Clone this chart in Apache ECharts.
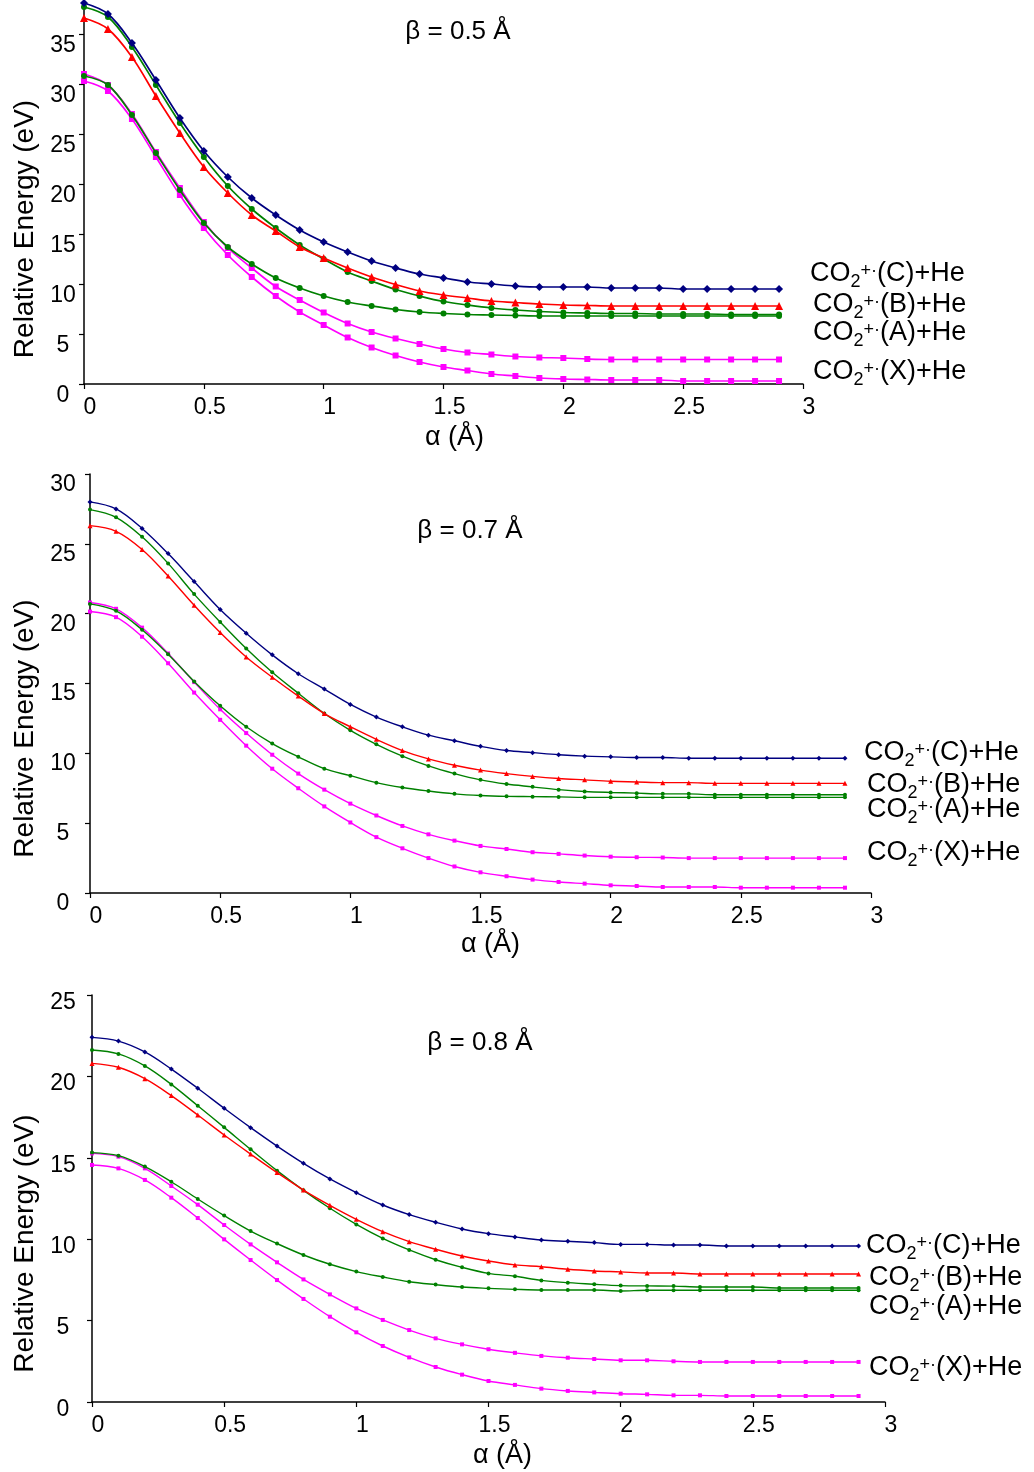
<!DOCTYPE html>
<html>
<head>
<meta charset="utf-8">
<title>CO2+ + He relative energy curves</title>
<script src="https://cdn.jsdelivr.net/npm/echarts@6/dist/echarts.min.js"></script>
<style>
  html, body { margin: 0; padding: 0; background: #fff; }
  #chart { width: 1034px; height: 1472px; }
</style>
</head>
<body>
<div id="chart"></div>
<script>
// α grid (Å)
const alpha = [0, 0.1, 0.2, 0.3, 0.4, 0.5, 0.6, 0.7, 0.8, 0.9, 1.0, 1.1, 1.2, 1.3, 1.4,
               1.5, 1.6, 1.7, 1.8, 1.9, 2.0, 2.1, 2.2, 2.3, 2.4, 2.5, 2.6, 2.7, 2.8, 2.9];

// β = 0.5 Å
const c05 = [38.1, 37.0, 34.1, 30.4, 26.6, 23.3, 20.7, 18.6, 16.9, 15.4, 14.2, 13.2, 12.3, 11.6, 11.0,
             10.6, 10.2, 10.0, 9.8, 9.7, 9.7, 9.7, 9.6, 9.6, 9.6, 9.5, 9.5, 9.5, 9.5, 9.5];
const b05 = [36.6, 35.5, 32.7, 28.8, 25.1, 21.7, 19.1, 16.9, 15.3, 13.7, 12.6, 11.6, 10.7, 9.95, 9.3,
             8.9, 8.6, 8.3, 8.15, 8.0, 7.9, 7.85, 7.8, 7.8, 7.8, 7.8, 7.8, 7.8, 7.8, 7.8];
const aUp05 = [37.7, 36.7, 33.7, 29.9, 26.1, 22.7, 19.8, 17.5, 15.6, 13.9, 12.5, 11.2, 10.3, 9.45, 8.8,
               8.25, 7.9, 7.6, 7.4, 7.25, 7.15, 7.1, 7.05, 7.05, 7.0, 7.0, 7.0, 6.95, 6.95, 6.95];
const aLo05 = [30.8, 29.9, 26.9, 23.1, 19.4, 16.1, 13.7, 12.0, 10.6, 9.6, 8.8, 8.2, 7.8, 7.45, 7.2,
               7.05, 6.95, 6.9, 6.85, 6.8, 6.8, 6.8, 6.8, 6.8, 6.8, 6.8, 6.8, 6.8, 6.8, 6.8];
const xUp05 = [31.0, 29.9, 27.0, 23.2, 19.6, 16.2, 13.6, 11.6, 9.75, 8.4, 7.15, 6.05, 5.2, 4.55, 4.0,
               3.5, 3.15, 2.95, 2.75, 2.65, 2.6, 2.5, 2.45, 2.45, 2.45, 2.45, 2.45, 2.45, 2.45, 2.45];
const xLo05 = [30.3, 29.3, 26.5, 22.7, 18.9, 15.6, 12.9, 10.7, 8.8, 7.2, 5.9, 4.65, 3.65, 2.85, 2.2,
               1.7, 1.35, 1.0, 0.8, 0.6, 0.5, 0.45, 0.4, 0.4, 0.4, 0.3, 0.3, 0.3, 0.3, 0.3];

// β = 0.7 Å
const c07 = [28.0, 27.5, 26.1, 24.3, 22.3, 20.3, 18.6, 17.05, 15.7, 14.6, 13.5, 12.6, 11.9, 11.3, 10.9,
             10.5, 10.2, 10.05, 9.9, 9.8, 9.75, 9.7, 9.7, 9.65, 9.65, 9.65, 9.65, 9.65, 9.65, 9.65];
const b07 = [26.3, 25.9, 24.6, 22.7, 20.6, 18.65, 16.9, 15.45, 14.1, 12.85, 11.9, 11.0, 10.2, 9.6, 9.15,
             8.8, 8.55, 8.35, 8.2, 8.1, 8.0, 7.95, 7.9, 7.9, 7.85, 7.85, 7.85, 7.85, 7.85, 7.85];
const aUp07 = [27.45, 26.9, 25.5, 23.6, 21.4, 19.4, 17.5, 15.8, 14.3, 12.85, 11.65, 10.65, 9.8, 9.1, 8.55,
               8.1, 7.8, 7.6, 7.4, 7.27, 7.2, 7.15, 7.1, 7.1, 7.03, 7.03, 7.03, 7.03, 7.03, 7.03];
const aLo07 = [20.7, 20.2, 18.85, 17.1, 15.15, 13.4, 11.9, 10.7, 9.75, 8.9, 8.4, 7.9, 7.55, 7.3, 7.1,
               6.98, 6.92, 6.9, 6.88, 6.85, 6.85, 6.85, 6.85, 6.85, 6.85, 6.85, 6.85, 6.85, 6.85, 6.85];
const xUp07 = [20.8, 20.35, 19.0, 17.15, 15.1, 13.15, 11.45, 9.9, 8.55, 7.4, 6.4, 5.55, 4.8, 4.2, 3.75,
               3.37, 3.15, 2.92, 2.8, 2.68, 2.6, 2.56, 2.54, 2.5, 2.5, 2.5, 2.5, 2.5, 2.5, 2.5];
const xLo07 = [20.15, 19.75, 18.35, 16.45, 14.35, 12.4, 10.55, 8.9, 7.5, 6.2, 5.05, 4.0, 3.2, 2.5, 1.9,
               1.48, 1.2, 0.96, 0.79, 0.67, 0.55, 0.5, 0.43, 0.43, 0.43, 0.38, 0.38, 0.38, 0.38, 0.38];

// β = 0.8 Å
const c08 = [22.4, 22.17, 21.5, 20.45, 19.27, 18.04, 16.85, 15.72, 14.66, 13.7, 12.86, 12.1, 11.51, 11.04, 10.63,
             10.34, 10.14, 9.95, 9.87, 9.79, 9.68, 9.68, 9.64, 9.64, 9.58, 9.58, 9.58, 9.58, 9.58, 9.58];
const b08 = [20.8, 20.56, 19.86, 18.82, 17.63, 16.4, 15.23, 14.09, 13.02, 12.08, 11.22, 10.46, 9.85, 9.38, 8.97,
             8.66, 8.42, 8.31, 8.15, 8.05, 7.99, 7.92, 7.92, 7.86, 7.86, 7.86, 7.86, 7.86, 7.86, 7.86];
const aUp08 = [21.62, 21.38, 20.64, 19.51, 18.2, 16.87, 15.52, 14.21, 13.0, 11.9, 10.91, 10.05, 9.34, 8.74, 8.27,
               7.9, 7.72, 7.47, 7.33, 7.23, 7.15, 7.13, 7.12, 7.06, 7.06, 7.06, 7.0, 7.0, 7.0, 7.0];
const aLo08 = [15.32, 15.13, 14.46, 13.53, 12.47, 11.45, 10.5, 9.73, 9.03, 8.46, 8.01, 7.68, 7.39, 7.21, 7.06,
               6.98, 6.92, 6.88, 6.88, 6.88, 6.82, 6.86, 6.86, 6.86, 6.86, 6.86, 6.86, 6.86, 6.86, 6.86];
const xUp08 = [15.27, 15.07, 14.35, 13.27, 12.12, 10.87, 9.68, 8.58, 7.53, 6.61, 5.75, 5.04, 4.42, 3.91, 3.54,
               3.24, 3.02, 2.83, 2.72, 2.64, 2.56, 2.56, 2.5, 2.46, 2.46, 2.46, 2.46, 2.46, 2.46, 2.46];
const xLo08 = [14.56, 14.35, 13.64, 12.55, 11.3, 9.99, 8.72, 7.49, 6.33, 5.24, 4.28, 3.44, 2.74, 2.15, 1.68,
               1.29, 1.05, 0.82, 0.68, 0.59, 0.51, 0.47, 0.41, 0.41, 0.37, 0.37, 0.37, 0.37, 0.37, 0.37];

const panelTitles = ['β = 0.5 Å', 'β = 0.7 Å', 'β = 0.8 Å'];
// top panel's axis runs off the top edge, so its visible range stops at 38.4
const yMaxes = [38.4, 30, 25];
const stateNames = ['C', 'B', 'A', 'X'];
const xTitle = 'α (Å)';
const yTitle = 'Relative Energy (eV)';

const FONT = "'Liberation Sans', Arial, Helvetica, sans-serif";
const NAVY = '#000080', RED = '#ff0000', GREEN = '#008000', MAGENTA = '#ff00ff';

// per-panel layout; yLabelLine = line box of the y tick labels (top-anchored, so half of it drops the text)
const panels = [
  { grid: { left: 84, top: 0, width: 719, height: 384 }, curves: [c05, b05, aUp05, aLo05, xUp05, xLo05],
    big: true, title: [458, 32], xShift: 22, xGap: 40, yGap: 45, yNameShift: 74,
    yLabelMargin: 21, yLabelLine: 23,
    labels: [[810, 274], [813, 305], [813, 333], [813, 372]] },
  { grid: { left: 90, top: 474, width: 781, height: 419 }, curves: [c07, b07, aUp07, aLo07, xUp07, xLo07],
    big: false, title: [470, 531], xShift: 20, xGap: 38, yGap: 51, yNameShift: 90,
    yLabelMargin: 27, yLabelLine: 21,
    labels: [[864, 753], [867, 785], [867, 810], [867, 853]] },
  { grid: { left: 92, top: 995, width: 793, height: 407 }, curves: [c08, b08, aUp08, aLo08, xUp08, xLo08],
    big: false, title: [480, 1043], xShift: 28, xGap: 40, yGap: 53, yNameShift: 90,
    yLabelMargin: 29, yLabelLine: 15,
    labels: [[866, 1246], [869, 1278], [869, 1307], [869, 1368]] }
];

const curveStyles = [
  { color: NAVY, symbol: 'diamond' },
  { color: RED, symbol: 'triangle' },
  { color: GREEN, symbol: 'circle' },
  { color: GREEN, symbol: 'circle' },
  { color: MAGENTA, symbol: 'rect' },
  { color: MAGENTA, symbol: 'rect' }
];

const grids = [], xAxes = [], yAxes = [], series = [], graphics = [];

panels.forEach((p, i) => {
  grids.push(Object.assign({ containLabel: false }, p.grid));
  xAxes.push({
    type: 'value', gridIndex: i, min: 0, max: 3, interval: 0.5,
    name: xTitle, nameLocation: 'middle', nameGap: p.xGap,
    nameTextStyle: { fontFamily: FONT, fontSize: 27, color: '#000', padding: [0, 0, 0, p.xShift] },
    axisLine: { lineStyle: { color: '#000', width: 1.5 } },
    axisTick: { show: true, length: 5, lineStyle: { color: '#000', width: 1.2 } },
    axisLabel: { fontFamily: FONT, fontSize: 23, color: '#000', margin: 12, padding: [0, 0, 0, 12] },
    splitLine: { show: false }
  });
  yAxes.push({
    type: 'value', gridIndex: i, min: 0, max: yMaxes[i], interval: 5,
    name: yTitle, nameLocation: 'middle', nameGap: p.yGap,
    nameTextStyle: { fontFamily: FONT, fontSize: 28, color: '#000', padding: [0, p.yNameShift, 0, 0] },
    axisLine: { show: true, lineStyle: { color: '#000', width: 1.5 } },
    axisTick: { show: true, length: 5, lineStyle: { color: '#000', width: 1.2 } },
    axisLabel: { fontFamily: FONT, fontSize: 23, color: '#000', align: 'center',
                 verticalAlign: 'top', lineHeight: p.yLabelLine,
                 margin: p.yLabelMargin, showMaxLabel: i !== 0 },
    splitLine: { show: false }
  });
  p.curves.forEach((vals, k) => {
    const st = curveStyles[k];
    const size = p.big ? (k < 2 ? 8 : 6) : (k < 2 ? 5 : 4);
    series.push({
      type: 'line', xAxisIndex: i, yAxisIndex: i,
      data: alpha.map((a, j) => [a, vals[j]]),
      smooth: 0.35,
      symbol: st.symbol, symbolSize: size, showAllSymbol: true,
      lineStyle: { color: st.color, width: p.big ? 1.7 : 1.4 },
      itemStyle: { color: st.color, borderWidth: 0 },
      emphasis: { disabled: true },
      clip: false,
      z: 10 - k
    });
  });
  graphics.push({
    type: 'text', x: p.title[0], y: p.title[1],
    style: { text: panelTitles[i], fontFamily: FONT, fontSize: 26, fill: '#000',
             align: 'center', verticalAlign: 'middle' }
  });
  stateNames.forEach((s, k) => {
    graphics.push({
      type: 'text', x: p.labels[k][0], y: p.labels[k][1],
      style: {
        text: '{m|CO}{sub|2}{sup|+·}{m|(' + s + ')+He}',
        align: 'left', verticalAlign: 'middle', fill: '#000',
        rich: {
          m: { fontFamily: FONT, fontSize: 27, lineHeight: 34, fill: '#000' },
          sub: { fontFamily: FONT, fontSize: 18, lineHeight: 18, verticalAlign: 'bottom', fill: '#000' },
          sup: { fontFamily: FONT, fontSize: 18, lineHeight: 18, verticalAlign: 'middle',
                 padding: [0, 0, 5, 0], fill: '#000' }
        }
      }
    });
  });
});

const chart = echarts.init(document.getElementById('chart'), null, { renderer: 'canvas' });
chart.setOption({
  animation: false,
  backgroundColor: '#fff',
  textStyle: { fontFamily: FONT },
  grid: grids,
  xAxis: xAxes,
  yAxis: yAxes,
  series: series,
  graphic: graphics
});
</script>
</body>
</html>
